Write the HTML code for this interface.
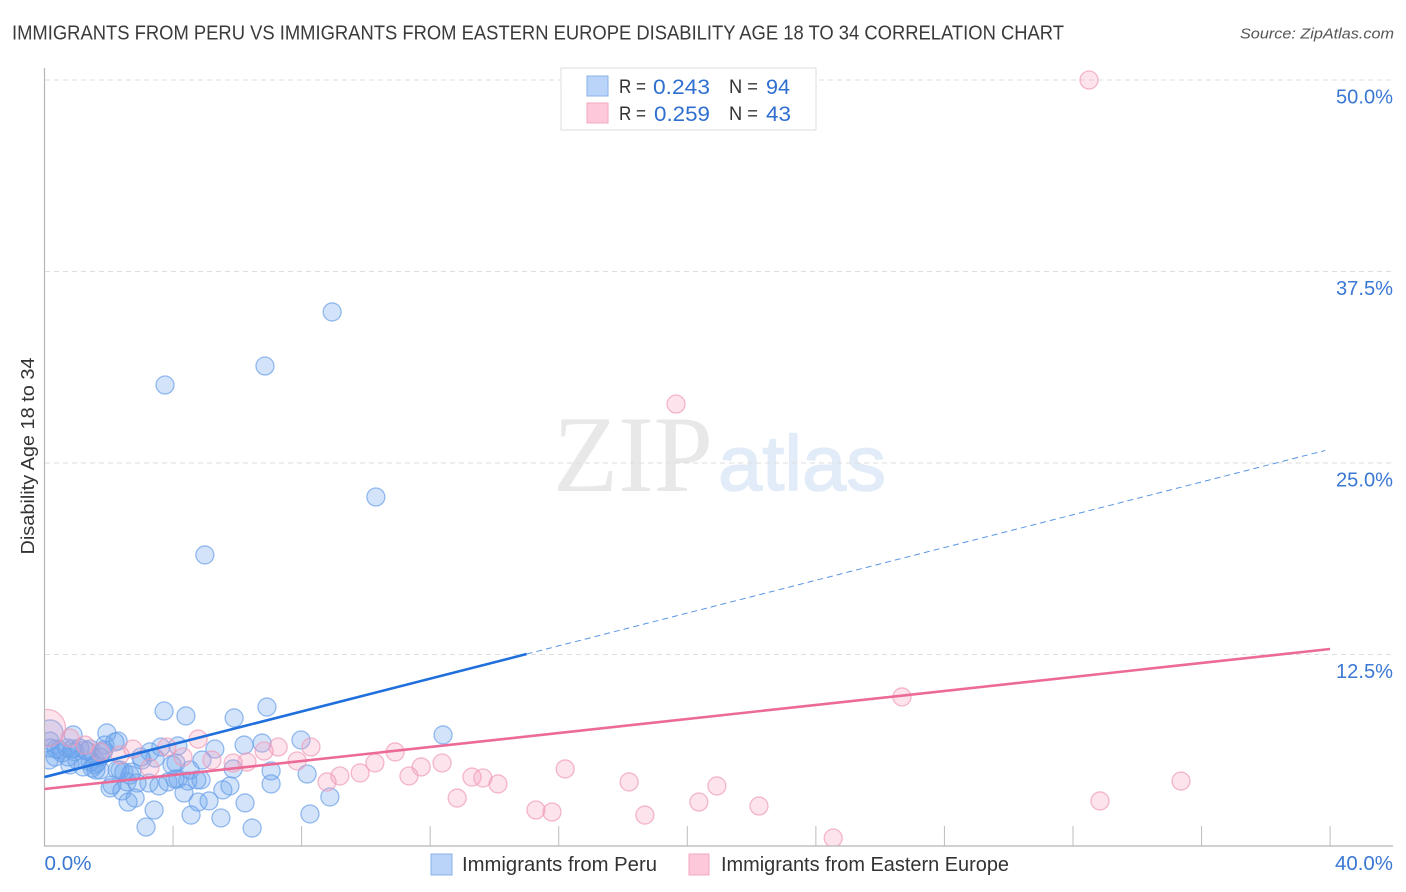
<!DOCTYPE html>
<html lang="en">
<head>
<meta charset="utf-8">
<title>Immigrants from Peru vs Immigrants from Eastern Europe Disability Age 18 to 34 Correlation Chart</title>
<style>
html,body{margin:0;padding:0;background:#fff;width:1406px;height:892px;overflow:hidden}
svg{display:block;font-family:"Liberation Sans",sans-serif}
</style>
</head>
<body>
<svg id="chart" width="1406" height="892" viewBox="0 0 1406 892">
  <defs>
    <clipPath id="plot-clip"><rect x="45" y="60" width="1348" height="785.5"/></clipPath>
  </defs>
  <text x="12" y="39.500" font-size="20" fill="#3a3a3a" textLength="1052" lengthAdjust="spacingAndGlyphs">IMMIGRANTS FROM PERU VS IMMIGRANTS FROM EASTERN EUROPE DISABILITY AGE 18 TO 34 CORRELATION CHART</text>
  <text x="1394" y="38.500" font-size="15" font-style="italic" fill="#555" text-anchor="end" textLength="154" lengthAdjust="spacingAndGlyphs">Source: ZipAtlas.com</text>

  <g>
    <text x="553" y="491" font-family="'Liberation Serif',serif" font-size="109" fill="#e8e8e8" textLength="160" lengthAdjust="spacingAndGlyphs">ZIP</text>
    <text x="718" y="490" font-size="78" fill="#e2ecf9" stroke="#e2ecf9" stroke-width="1.500" textLength="168" lengthAdjust="spacingAndGlyphs">atlas</text>
  </g>

  <g id="grid"></g>
  <g id="axes"></g>
  <g id="peru-points" clip-path="url(#plot-clip)"></g>
  <g id="europe-points" clip-path="url(#plot-clip)"></g>
  <g id="trends"></g>

  <text x="34" y="456" font-size="18" fill="#333" text-anchor="middle" transform="rotate(-90 34 456)" textLength="197" lengthAdjust="spacingAndGlyphs">Disability Age 18 to 34</text>

  <g>
    <rect x="561" y="68" width="255" height="62" fill="#fff" stroke="#dddddd" stroke-width="1"/>
    <rect x="587" y="76" width="21" height="20" fill="#b9d4f8" stroke="#8ab2e8" stroke-width="1"/>
    <rect x="587" y="103" width="21" height="20" fill="#fcc8da" stroke="#f3a9c2" stroke-width="1"/>
    <text x="619" y="93" font-size="19.500" fill="#333" textLength="27" lengthAdjust="spacingAndGlyphs">R =</text>
    <text x="653" y="94" font-size="21.500" fill="#2f6fd0" textLength="57" lengthAdjust="spacingAndGlyphs">0.243</text>
    <text x="729" y="93" font-size="19.500" fill="#333" textLength="29" lengthAdjust="spacingAndGlyphs">N =</text>
    <text x="766" y="94" font-size="21.500" fill="#2f6fd0" textLength="24" lengthAdjust="spacingAndGlyphs">94</text>
    <text x="619" y="120" font-size="19.500" fill="#333" textLength="27" lengthAdjust="spacingAndGlyphs">R =</text>
    <text x="654" y="121" font-size="21.500" fill="#2f6fd0" textLength="56" lengthAdjust="spacingAndGlyphs">0.259</text>
    <text x="729" y="120" font-size="19.500" fill="#333" textLength="29" lengthAdjust="spacingAndGlyphs">N =</text>
    <text x="766" y="121" font-size="21.500" fill="#2f6fd0" textLength="25" lengthAdjust="spacingAndGlyphs">43</text>
  </g>

  <g>
    <rect x="431" y="854" width="21" height="21" fill="#b9d4f8" stroke="#8ab2e8" stroke-width="1"/>
    <text x="462" y="871" font-size="20" fill="#333" textLength="195" lengthAdjust="spacingAndGlyphs">Immigrants from Peru</text>
    <rect x="689" y="854" width="20" height="21" fill="#fcc8da" stroke="#f3a9c2" stroke-width="1"/>
    <text x="721" y="871" font-size="20" fill="#333" textLength="288" lengthAdjust="spacingAndGlyphs">Immigrants from Eastern Europe</text>
  </g>
</svg>
<script>
var yTickValues = [12.5, 25, 37.5, 50];
var yTickLabels = ["12.5%", "25.0%", "37.5%", "50.0%"];
var xTickValues = [4, 8, 12, 16, 20, 24, 28, 32, 36, 40];
var xEndValues = [0, 40];
var xEndLabels = ["0.0%", "40.0%"];

var peruX = [8.95,6.86,3.75,10.31,4.99,3.72,4.40,6.92,5.90,1.94,12.40,7.98,6.21,6.77,5.30,4.15,2.19,3.62,3.28,3.00,0.89,0.17,0.17,0.17,0.33,0.48,0.70,0.73,0.95,1.26,1.42,1.82,1.73,1.01,0.79,1.20,1.57,1.73,1.42,1.63,2.35,2.47,2.72,2.57,2.88,2.04,2.41,2.82,2.60,3.25,3.56,3.44,3.84,4.09,4.15,4.46,4.53,4.74,4.87,4.34,4.78,5.12,5.55,5.77,5.87,4.90,7.05,7.05,8.17,6.24,8.88,8.26,6.46,5.49,4.56,3.41,3.16,3.97,3.03,2.26,1.88,1.10,0.54,1.48,0.36,1.85,2.10,2.66,4.06,2.29,1.60,1.32,0.86,0.14];
var peruY = [34.86,31.33,30.09,22.78,19.00,8.81,8.49,9.07,8.36,7.38,7.25,6.92,6.59,6.72,6.33,6.53,6.79,6.46,6.14,5.81,7.25,7.38,6.85,6.40,5.81,6.27,6.40,5.81,6.14,6.27,6.33,6.14,5.81,5.61,5.29,5.16,5.29,4.96,5.48,5.42,4.96,4.83,4.83,4.18,4.11,3.79,3.59,3.13,2.87,4.11,3.92,5.74,4.18,5.42,4.37,4.24,4.96,4.31,4.31,3.46,2.87,2.94,3.66,3.92,5.03,5.61,4.90,4.05,4.70,2.81,3.20,2.09,1.17,1.83,2.02,2.35,1.24,5.29,5.61,4.96,6.59,6.40,6.07,5.09,6.33,6.27,3.98,4.63,4.37,6.85,4.96,6.20,6.33,5.61];
var peruLargeIndex = 21;

var europeX = [32.50,19.65,26.68,35.36,32.84,24.54,22.23,20.92,20.36,18.68,18.19,16.20,15.79,15.29,14.11,13.64,13.30,12.84,12.37,11.72,11.34,10.91,10.28,9.82,9.19,8.79,8.29,7.86,7.27,6.83,6.30,5.87,5.21,4.78,4.31,3.81,3.28,2.75,2.35,1.26,0.79,0.08,1.73];
var europeY = [50.00,28.85,9.73,4.24,2.94,0.52,2.61,3.92,2.87,2.02,4.18,5.03,2.22,2.35,4.05,4.44,4.50,3.13,5.42,5.16,4.57,6.14,5.42,4.77,4.57,4.18,6.46,5.55,6.46,6.20,5.48,5.42,5.61,6.98,5.81,6.46,5.09,6.33,5.94,6.59,7.05,7.70,6.14];
var europeLargeIndex = 41;

var peruTrendX = [0, 15, 39.85];
var peruTrendY = [4.50, 12.53, 25.82];
var europeTrendX = [0, 40];
var europeTrendY = [3.72, 12.86];

var NS = "http://www.w3.org/2000/svg";
function xScale(v) { return 44.5 + v * 32.14; }
function yScale(v) { return 846 - v * 15.32; }
function make(parent, tag, attrs) {
  var el = document.createElementNS(NS, tag);
  for (var k in attrs) { el.setAttribute(k, attrs[k]); }
  parent.appendChild(el);
  return el;
}

var grid = document.getElementById("grid");
var axes = document.getElementById("axes");
yTickValues.forEach(function (v, i) {
  var line = make(grid, "line", {x1: 45, x2: 1393, y1: yScale(v), y2: yScale(v), stroke: "#dedede", "stroke-width": 1, "stroke-dasharray": "5 4"});
  
  
  var label = make(axes, "text", {x: 1393, y: yScale(v) + 23.5, "font-size": 20, fill: "#3a78d4", "text-anchor": "end", textLength: 57, lengthAdjust: "spacingAndGlyphs"});
  
  
  label.textContent = yTickLabels[i];
});
xTickValues.forEach(function (v) {
  var tick = make(axes, "line", {x1: xScale(v), x2: xScale(v), y1: 826, y2: 846, stroke: "#bdbdbd", "stroke-width": 1});
  
  
});
var yAxis = make(axes, "line", {x1: 44.5, x2: 44.5, y1: 68, y2: 846, stroke: "#b5b5b5", "stroke-width": 1.2});


var xAxis = make(axes, "line", {x1: 44, x2: 1393, y1: 846, y2: 846, stroke: "#b5b5b5", "stroke-width": 1.2});


xEndValues.forEach(function (v, i) {
  var label = make(axes, "text", {x: i === 0 ? xScale(v) : 1393, y: 870, "font-size": 20, fill: "#3a78d4", "text-anchor": i === 0 ? "start" : "end", textLength: i === 0 ? 47 : 58, lengthAdjust: "spacingAndGlyphs"});
  
  
  label.textContent = xEndLabels[i];
});

var peruGroup = document.getElementById("peru-points");
peruX.forEach(function (v, i) {
  var c = make(peruGroup, "circle", {cx: xScale(v), cy: yScale(peruY[i]), r: i === peruLargeIndex ? 13 : 9, fill: "#6ea6f0", "fill-opacity": 0.3, stroke: "#6a9fe8", "stroke-opacity": 0.7, "stroke-width": 1.3});
  
  
});
var europeGroup = document.getElementById("europe-points");
europeX.forEach(function (v, i) {
  var c = make(europeGroup, "circle", {cx: xScale(v), cy: yScale(europeY[i]), r: i === europeLargeIndex ? 18.5 : 9, fill: "#f6a3c0", "fill-opacity": 0.3, stroke: "#ef9ab8", "stroke-opacity": 0.7, "stroke-width": 1.3});
  
  
});

var trends = document.getElementById("trends");
var peruSolid = make(trends, "line", {x1: xScale(peruTrendX[0]), y1: yScale(peruTrendY[0]), x2: xScale(peruTrendX[1]), y2: yScale(peruTrendY[1]), stroke: "#1f6fdc", "stroke-width": 2.6});


var peruDash = make(trends, "line", {x1: xScale(peruTrendX[1]), y1: yScale(peruTrendY[1]), x2: xScale(peruTrendX[2]), y2: yScale(peruTrendY[2]), stroke: "#5a96e6", "stroke-width": 1, "stroke-dasharray": "6 4"});


var europeLine = make(trends, "line", {x1: xScale(europeTrendX[0]), y1: yScale(europeTrendY[0]), x2: xScale(europeTrendX[1]), y2: yScale(europeTrendY[1]), stroke: "#ec6a98", "stroke-width": 2.6});


</script>
</body>
</html>
